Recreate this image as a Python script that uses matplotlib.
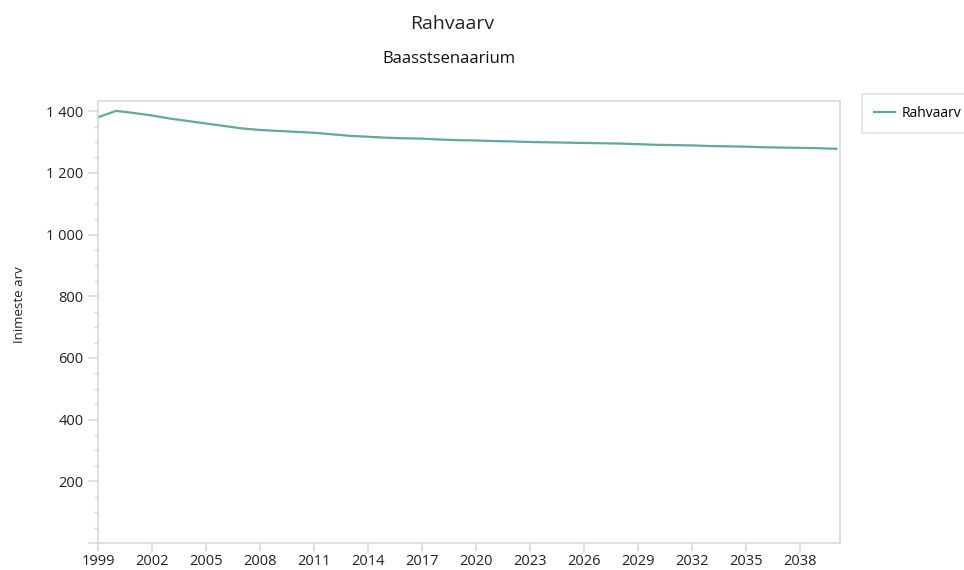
import matplotlib.pyplot as plt
from matplotlib.ticker import FuncFormatter, MultipleLocator

plt.rcParams['font.family'] = ['Open Sans', 'DejaVu Sans']

years = list(range(1999, 2041))
population = [1380, 1401, 1394, 1386, 1376, 1368, 1360, 1352, 1344, 1339,
              1336, 1333, 1330, 1325, 1320, 1317, 1314, 1312, 1311, 1308,
              1306, 1305, 1303, 1302, 1300, 1299, 1298, 1297, 1296, 1295,
              1293, 1291, 1290, 1289, 1287, 1286, 1285, 1283, 1282, 1281,
              1280, 1278]
xticks = list(range(1999, 2039, 3))

grey = '#d9d9d9'
teal = '#5fa9a0'

fig = plt.figure(figsize=(9.64, 5.7), dpi=100)
ax = fig.add_axes([0.1017, 0.0474, 0.7697, 0.7754])

ax.plot(years, population, color=teal, lw=1.6, label='Rahvaarv')

ax.set_xlim(1999, 2040.2)
ax.set_ylim(0, 1433)
ax.set_xticks(xticks)
ax.yaxis.set_major_locator(MultipleLocator(200))
ax.yaxis.set_minor_locator(MultipleLocator(50))
ax.yaxis.set_major_formatter(FuncFormatter(
    lambda v, p: '' if v == 0 else f'{int(v):,}'.replace(',', ' ')))

for s in ax.spines.values():
    s.set_color(grey)
    s.set_linewidth(1.2)
ax.tick_params(axis='both', which='both', colors=grey, labelcolor='#222222',
               labelsize=10.5)
ax.tick_params(axis='y', which='major', length=7, width=1.2)
ax.tick_params(axis='y', which='minor', length=3, width=1)
ax.tick_params(axis='x', length=6, width=1.2, pad=2)

ax.set_ylabel('Inimeste arv', fontsize=9.5, color='#222222')
ax.yaxis.set_label_coords(-72 / 742, 0.54)

fig.text(452 / 964, 1 - 24 / 570, 'Rahvaarv', ha='center', va='center',
         fontsize=14, color='#222222')
fig.text(449 / 964, 1 - 59 / 570, 'Baasstsenaarium', ha='center', va='center',
         fontsize=12, color='#111111')

leg = ax.legend(loc='upper left', bbox_to_anchor=(1.03, 1.015), fontsize=10,
                frameon=True, fancybox=False, borderpad=0.85, handlelength=1.5,
                handletextpad=0.5, borderaxespad=0)
leg.get_frame().set_edgecolor(grey)
leg.get_frame().set_linewidth(1.2)

fig.savefig('out.png', dpi=100)
